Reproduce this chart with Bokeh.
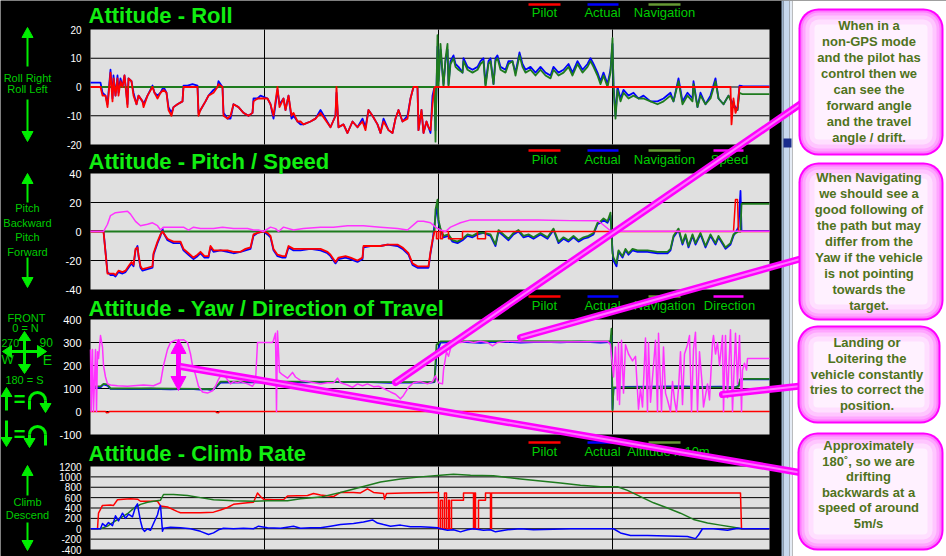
import math
from bokeh.plotting import figure
from bokeh.models import Range1d
from bokeh.core.properties import value
from bokeh.embed import file_html
from bokeh.resources import INLINE

W, H = 946, 556
FONT = "Liberation Sans"

# ---------------- data ----------------
T_END = 679
T_GRID = [174, 348, 522]

roll_ticks = [20, 10, 0, -10, -20]
pitch_ticks = [40, 20, 0, -20, -40]
yaw_ticks = [400, 300, 200, 100, 0, -100]
climb_ticks = [1200, 1000, 800, 600, 400, 200, 0, -200, -400]

# Roll
roll_t_a = [0, 10, 12, 15, 17, 20, 22, 23, 25, 27, 28, 30, 32, 34, 37, 38, 41, 43, 46, 48, 52, 53, 57, 62, 64, 67, 70, 73, 76, 78, 81, 83, 87, 92, 93, 97, 102, 107, 108, 110, 115, 118, 123, 127, 128, 132, 133, 137, 140, 143, 148, 153, 158, 162, 163, 167, 170, 177, 180, 183, 187, 189, 193, 195, 198, 201, 203, 207, 210, 213, 220, 225, 230, 240, 245, 246, 248, 253, 257, 262, 267, 272, 275, 278, 282, 287, 290, 293, 298, 302, 305, 308, 312, 317, 320, 323, 327, 328, 331, 333, 336, 338, 340, 342, 344]
roll_pilot_a = [0, 0, -3, -3, -7, 5, -5, 3, -3, 3, -3, 2, 0, 4, -7, 3, 2, -3, -6, -3, -5, -7, -3, 0, -2, -4, -2, -1, -2, -8, -10, -7, -6, -5, 0, 0, 0, 0, -10, -8, -5, -3, -2, 0, 1, 0, -10, -11, -10, -6, -7, -9, -10, -9, -5, -4, -4, -4, -6, -10, 0, -7, -4, -8, -3, -10, -9, -12, -12, -13, -12, -11, -9, -14, -10, 0, -14, -13, -16, -12, -14, -12, -15, -8, -10, -13, -16, -12, -15, -16, -11, -8, -12, -11, -4, 0, 0, -15, -8, -16, -12, -14, -15, -6, 0]
roll_actual_a = [1.5, 1.5, -2, -3, -6, 6, -4, 4, -3, 4, -2, 3, 0, 4, -6, 3, 2, -2, -6, -3, -5, -6, -3, 0.5, -2, -3, -2, 0, -2, -7, -9, -7, -6, -5, 0.5, 0.5, 1, 0.5, -9, -8, -5, -3, -1, 0, 2, 0, -9, -11, -11, -6, -7, -9, -10, -9, -4, -4, -3, -4, -6, -11, -1, -6, -4, -8, -3, -11, -10, -12, -13, -13, -12, -11, -8, -14, -10, -2, -14, -13, -16, -12, -14, -11, -14, -8, -10, -13, -16, -11, -15, -16, -11, -8, -12, -10, -4, 0, 0, -15, -8, -16, -12, -14, -16, -3, 0]
roll_t_b = [344, 345, 347, 348, 350, 353, 355, 357, 358, 360, 363, 365, 368, 372, 373, 377, 382, 387, 390, 393, 395, 398, 400, 403, 405, 407, 410, 415, 418, 422, 425, 429, 432, 435, 440, 445, 450, 455, 460, 463, 468, 473, 478, 482, 487, 492, 497, 500, 503, 507, 510, 513, 517, 520, 522, 523, 525, 527, 530, 533, 538, 543, 548, 553, 560, 567, 573, 580, 583, 588, 592, 597, 602, 603, 607, 610, 615, 620, 625, 628, 633, 638, 643, 647, 649, 652, 679]
roll_nav_b = [0, -19, 18, 0, 15, 0, 10, 15, 0, 8, 10, 7, 6, 5, 9, 6, 5, 6, 8, 9, 0, 8, 9, 1, 9, 10, 6, 5, 8, 9, 4, 11, 7, 5, 6, 4, 6, 4, 3, 6, 4, 5, 7, 4, 8, 5, 7, 9, 7, 4, 1, 4, 0, 5, 17, 0, -11, -1, -5, -2, -4, -3, -4, -4, -5, -6, -5, -3, -5, 2, -6, -3, -5, 1, -7, -3, -6, -4, 2, -4, -6, -3, -7, -8, -2, -2.5, -2.5]
roll_actual_b = [0, -15, 14, 2, 13, 1, 9, 13, 1, 9, 11, 8, 7, 5, 10, 7, 6, 7, 9, 10, 1, 9, 10, 1, 10, 11, 7, 6, 9, 9, 5, 12, 8, 6, 7, 5, 7, 5, 4, 7, 5, 6, 8, 5, 9, 6, 8, 10, 8, 5, 2, 5, 1, 6, 15, 1, -10, 0, -4, -1, -3, -2, -4, -3, -5, -5, -4, -2, -5, 3, -5, -2, -4, 2, -7, -2, -6, -3, 3, -4, -6, -3, -6, -8, 0.5, 0.3, 0.2]
roll_pilot_b_t = [344, 640, 641, 643, 645, 647, 649, 679]
roll_pilot_b = [0, 0, -13, -4, -9, -7, 0, 0]
roll_nav_a_t = [0, 344]
roll_nav_a = [0, 0]

# Pitch / Speed
pitch_t_a = [0, 13, 17, 20, 23, 25, 28, 32, 35, 38, 41, 43, 45, 47, 48, 50, 52, 57, 62, 63, 67, 70, 72, 73, 77, 80, 83, 90, 93, 98, 103, 107, 110, 114, 118, 120, 123, 130, 137, 143, 150, 155, 160, 163, 167, 173, 177, 180, 183, 187, 192, 195, 198, 203, 210, 220, 230, 237, 240, 245, 248, 255, 260, 267, 272, 273, 280, 290, 297, 307, 312, 318, 322, 327, 333, 338, 340, 342, 344]
pitch_pilot_a = [0, 0, -29, -29, -29, -30, -27, -28, -27, -24, -21, -23, -12, -11, -16, -24, -26, -25, -24, -15, -7, -2, 0, -1, -5, -6, -7, -7, -12, -15, -18, -16, -14, -17, -17, -10, -13, -13, -13, -14, -14, -12, -11, -2, -1, 0, -1, -3, -12, -16, -17, -17, -10, -12, -12, -12, -12, -14, -16, -21, -18, -17, -18, -20, -18, -10, -10, -10, -9, -9, -11, -15, -22, -24, -24, -24, -14, -6, 0]
pitch_actual_a = [0.5, 0.5, -28, -30, -30, -31, -28, -29, -28, -25, -22, -24, -13, -10, -17, -25, -27, -26, -25, -16, -8, -3, 2, -1, -6, -7, -8, -8, -13, -16, -19, -17, -15, -18, -18, -11, -14, -13, -14, -15, -14, -13, -12, -3, -1, 0, -2, -4, -13, -17, -18, -18, -11, -13, -13, -12, -13, -15, -17, -22, -19, -18, -19, -21, -19, -11, -10, -10, -9, -10, -12, -16, -23, -25, -25, -25, -15, -7, 5]
pitch_t_b = [344, 345, 347, 348, 350, 353, 358, 362, 367, 372, 377, 382, 387, 393, 400, 405, 408, 413, 418, 423, 428, 433, 438, 443, 450, 457, 463, 468, 473, 478, 483, 488, 493, 498, 503, 507, 510, 513, 517, 520, 522, 523, 526, 528, 532, 535, 538, 542, 547, 557, 567, 577, 580, 583, 588, 592, 595, 598, 602, 605, 610, 615, 620, 625, 628, 635, 640, 643, 648, 650, 651, 679]
pitch_nav_b = [0, 15, 22, 8, 2, -3, -2, -6, -7, -5, -2, -3, -1, -1, -2, -9, 1, -2, -5, -1, 1, -3, -2, -4, -1, -4, 2, -7, -4, -6, -3, -6, -4, -3, -1, 6, 7, 9, 7, 13, -15, -18, -22, -13, -17, -12, -15, -12, -13, -13, -14, -14, -12, -3, 2, -8, -2, -10, -2, -8, -1, -10, -2, -8, -3, -11, -8, -2, 0, 0, 19, 19]
pitch_actual_b = [5, 10, 18, 6, 1, -4, -3, -7, -8, -6, -3, -4, -2, -1, -3, -10, 0, -3, -6, -2, 0, -4, -3, -5, -2, -5, 1, -8, -5, -7, -4, -7, -5, -4, -2, 5, 6, 8, 6, 11, -13, -20, -24, -14, -18, -13, -16, -13, -14, -14, -15, -15, -13, -4, 1, -9, -3, -11, -3, -9, -2, -11, -3, -9, -4, -12, -9, -3, 3, 28, 0.5, 0.5]
pitch_pilot_b_t = [344, 346, 346, 348, 348, 350, 350, 352, 352, 358, 358, 372, 372, 387, 387, 395, 395, 643, 645, 647, 648, 679]
pitch_pilot_b = [0, 0, -5, -5, 0, 0, -5, -5, 0, 0, -5, -5, 0, 0, -5, -5, 0, 0, 22, 22, 0, 0]
pitch_nav_a_t = [0, 344]
pitch_nav_a = [0, 0]
speed_t = [0, 13, 17, 20, 25, 37, 40, 45, 50, 57, 62, 67, 70, 73, 83, 93, 98, 103, 110, 123, 132, 143, 157, 163, 168, 173, 180, 185, 188, 193, 203, 213, 230, 243, 257, 273, 290, 307, 317, 327, 333, 340, 345, 350, 355, 360, 370, 380, 413, 447, 480, 507, 512, 520, 522, 679]
speed = [0, 0, 5, 11, 13, 14, 12, 7, 4, 5, 6, 4, 1, 3, 3, 3, 1, 3, 2, 2, 3, 2, 2, 1, 1, 0, 3, 2, 0, 3, 1, 2, 3, 3, 4, 4, 3, 2, 1, 7, 7, 6, 3, 1, 0, 3, 6, 8, 8, 8, 7.5, 7.5, 5, 0.5, 0.2, 0.2]

# Yaw / Direction of travel
yaw_nav_t = [0, 10, 13, 17, 20, 60, 110, 123, 127, 130, 200, 300, 340, 344, 346, 350, 400, 500, 519, 520, 521, 522, 523, 530, 600, 645, 648, 650, 679]
yaw_nav = [109, 109, 120, 118, 100, 100, 98, 97, 115, 130, 130, 128, 128, 130, 290, 305, 306, 305, 305, 306, 360, 5, 105, 105, 105, 105, 108, 142, 142]
yaw_actual_t = [0, 10, 13, 17, 20, 40, 60, 80, 100, 110, 115, 120, 123, 127, 130, 160, 200, 240, 280, 300, 320, 340, 344, 346, 350, 370, 390, 410, 430, 450, 470, 490, 510, 519, 520, 521, 522, 523, 530, 560, 590, 610, 630, 645, 648, 650, 679]
yaw_actual = [105, 105, 118, 112, 98, 97, 99, 96, 98, 95, 97, 94, 96, 112, 126, 127, 126, 129, 128, 125, 127, 126, 128, 250, 300, 303, 298, 304, 300, 303, 301, 304, 300, 302, 300, 330, 10, 100, 107, 108, 109, 107, 108, 106, 112, 140, 140]
yaw_pilot_t = [0, 15, 16, 18, 19, 125, 126, 128, 129, 679]
yaw_pilot = [0, 0, -5, -4, 0, 0, -4, -5, 0, 0]
direction_t = [0, 0.7, 2, 3, 5, 6, 7, 8, 10, 12, 13, 15, 17, 20, 27, 37, 43, 53, 63, 70, 73, 77, 80, 85, 93, 97, 100, 102, 105, 108, 112, 117, 122, 125, 128, 132, 135, 140, 143, 147, 150, 157, 162, 165, 167, 172, 182, 183, 185, 186, 187, 189, 192, 197, 202, 205, 210, 217, 230, 237, 243, 247, 250, 257, 262, 267, 272, 277, 283, 288, 293, 300, 305, 310, 313, 318, 323, 330, 337, 342, 345, 348, 352, 353, 356, 358, 361, 363, 370, 377, 383, 390, 397, 402, 407, 417, 430, 463, 497, 517, 520, 523, 525, 527, 528, 529, 531, 533, 535, 538, 542, 545, 548, 550, 552, 555, 557, 558, 560, 563, 565, 567, 568, 571, 573, 575, 577, 580, 582, 584, 586, 588, 590, 592, 594, 597, 599, 601, 603, 605, 607, 609, 612, 613, 617, 619, 622, 623, 625, 627, 629, 632, 633, 635, 637, 640, 642, 645, 647, 649, 651, 652, 654, 656, 657, 679]
direction = [270, 0, 270, 0, 270, 0, 260, 230, 330, 280, 200, 150, 120, 115, 112, 110, 112, 115, 112, 125, 200, 270, 300, 310, 312, 300, 250, 200, 160, 110, 85, 80, 90, 110, 140, 170, 150, 120, 130, 125, 130, 120, 110, 130, 300, 300, 300, 310, 340, 0, 350, 171, 160, 145, 170, 150, 135, 130, 120, 125, 125, 145, 125, 115, 105, 120, 112, 120, 108, 110, 100, 85, 75, 55, 70, 105, 125, 130, 120, 130, 155, 125, 120, 180, 260, 240, 290, 300, 300, 305, 300, 305, 300, 285, 300, 305, 303, 302, 303, 305, 290, 150, 280, 50, 300, 30, 310, 80, 290, 250, 220, 240, 10, 100, 20, 320, 0, 300, 40, 200, 310, 0, 340, 0, 280, 80, 50, 0, 130, 50, 0, 100, 260, 30, 250, 290, 330, 0, 270, 345, 0, 260, 100, 20, 120, 50, 300, 330, 250, 300, 200, 330, 0, 330, 60, 355, 0, 340, 120, 330, 0, 180, 210, 180, 230, 230]

# Climb rate
alt_t = [0, 10, 17, 23, 30, 37, 43, 50, 57, 63, 70, 73, 83, 97, 110, 123, 143, 163, 177, 197, 210, 230, 250, 270, 290, 310, 330, 350, 363, 380, 403, 417, 430, 450, 470, 490, 510, 527, 537, 550, 563, 577, 590, 603, 617, 630, 643, 651, 679]
alt = [0, 0, 50, 130, 210, 290, 390, 470, 510, 530, 550, 660, 660, 640, 600, 560, 540, 530, 540, 540, 580, 610, 700, 800, 900, 960, 1000, 1030, 1050, 1030, 1020, 990, 960, 920, 880, 840, 810, 810, 740, 620, 500, 400, 300, 180, 110, 70, 30, 0, 0]
climb_pilot_t = [0, 7, 8, 12, 20, 23, 27, 33, 40, 47, 50, 67, 70, 77, 87, 90, 110, 123, 130, 137, 143, 157, 163, 167, 170, 173, 183, 193, 197, 217, 223, 230, 243, 250, 263, 270, 277, 283, 293, 294, 296, 313, 347, 348, 348, 350, 350, 352, 352, 354, 354, 356, 356, 358, 358, 359, 359, 361, 361, 373, 373, 383, 383, 384, 384, 385, 385, 388, 388, 395, 395, 400, 400, 401, 401, 650, 651, 679]
climb_pilot = [0, 0, 300, 450, 460, 450, 560, 570, 580, 570, 530, 530, 440, 420, 330, 310, 310, 320, 360, 410, 470, 500, 510, 690, 620, 570, 560, 560, 630, 640, 680, 650, 620, 700, 700, 690, 770, 700, 680, 570, 680, 690, 700, 700, 0, 0, 550, 550, 0, 0, 690, 690, 0, 0, 550, 550, 0, 0, 550, 550, 690, 690, 0, 0, 690, 690, 0, 0, 550, 550, 690, 690, 0, 0, 690, 690, 0, 0]
climb_actual_t = [0, 10, 12, 15, 18, 22, 25, 28, 32, 35, 38, 42, 45, 47, 48, 50, 52, 54, 57, 60, 63, 67, 68, 70, 72, 73, 80, 90, 100, 110, 118, 123, 128, 133, 143, 153, 163, 168, 177, 190, 203, 210, 220, 230, 240, 250, 263, 273, 282, 287, 293, 300, 310, 320, 330, 340, 347, 350, 357, 363, 370, 377, 383, 393, 400, 405, 417, 430, 443, 463, 480, 497, 513, 523, 530, 540, 557, 577, 597, 605, 608, 612, 623, 637, 647, 652, 679]
climb_actual = [0, 0, 100, 50, 120, 60, 250, 150, 300, 200, 280, 230, 420, 480, 360, 150, 0, -50, 0, -30, 100, 270, 350, 450, -50, 10, 30, 20, 0, -50, -110, -80, -20, 10, 0, 10, 0, 50, 20, 10, 50, 10, 20, 20, 50, 80, 100, 130, 170, 110, 80, 50, 70, 40, 40, 30, 20, 0, -30, -20, -60, -20, 0, -30, -20, -60, -20, 0, -20, -10, 0, 0, 0, 0, -80, -130, -130, -140, -150, -190, -120, 0, 0, -30, 10, 0, 0]

titles = ["Attitude - Roll", "Attitude - Pitch / Speed",
          "Attitude - Yaw / Direction of Travel", "Attitude - Climb Rate"]
legend_roll = ["Pilot", "Actual", "Navigation"]
legend_pitch = ["Pilot", "Actual", "Navigation", "Speed"]
legend_yaw = ["Pilot", "Actual", "Navigation", "Direction"]
legend_climb = ["Pilot", "Actual", "Altitude x 10m"]

callout_texts = [
    ["When in a", "non-GPS mode", "and the pilot has", "control then we",
     "can see the", "forward angle", "and the travel", "angle / drift."],
    ["When Navigating", "we should see a", "good following of", "the path but may",
     "differ from the", "Yaw if the vehicle", "is not pointing", "towards the", "target."],
    ["Landing or", "Loitering the", "vehicle constantly", "tries to correct the", "position."],
    ["Approximately", "180\u02da, so we are", "drifting", "backwards at a",
     "speed of around", "5m/s"],
]

# ---------------- styles / layout ----------------
RED, BLUE, NAV, MAG = "#ff0000", "#0000ff", "#1e7b1e", "#ff33ff"
LEG_NAV = "#669933"
GREEN_TITLE = "#11ee11"
GREEN_TXT = "#00cc00"
GREEN_ARROW = "#00ee00"
PLOT_BG = "#e0e0e0"

p = figure(width=W, height=H, x_range=Range1d(0, W), y_range=Range1d(0, H),
           output_backend="svg", toolbar_location=None,
           x_axis_type=None, y_axis_type=None, min_border=0,
           background_fill_color="black", border_fill_color="black",
           outline_line_color=None)


def Y(py):
    return H - py


PLOT_LEFT_PX = 90
panels = {
    "roll": dict(top=29, bottom=144, ticks=roll_ticks, grid=[10, 0, -10], fs=10),
    "pitch": dict(top=173, bottom=289, ticks=pitch_ticks, grid=[20, 0, -20], fs=11),
    "yaw": dict(top=319, bottom=434, ticks=yaw_ticks, grid=[300, 200, 100, 0], fs=11),
    "climb": dict(top=466, bottom=549, ticks=climb_ticks, grid=climb_ticks[1:-1], fs=10),
}
yr = {}
for name, d in panels.items():
    lo, hi = min(d["ticks"]), max(d["ticks"])
    s = (hi - lo) / (d["bottom"] - d["top"])
    r0 = lo - (H - d["bottom"]) * s
    yr[name] = Range1d(r0, r0 + H * s)
p.extra_y_ranges = yr
p.extra_x_ranges = {"t": Range1d(-PLOT_LEFT_PX, W - PLOT_LEFT_PX)}


def label(x, y, s, size, color, align="center", baseline="middle", bold=False, font=FONT):
    p.text(x=[x], y=[Y(y)], text=[s], text_font=value(font),
           text_font_size=value(f"{size}px"), text_color=color,
           text_align=align, text_baseline=baseline,
           text_font_style="bold" if bold else "normal")


for name, d in panels.items():
    lo, hi = min(d["ticks"]), max(d["ticks"])
    p.quad(left=[0], right=[T_END], bottom=[lo], top=[hi], x_range_name="t",
           y_range_name=name, fill_color=PLOT_BG, line_color=None)
    p.segment(x0=T_GRID, x1=T_GRID, y0=[lo] * 3, y1=[hi] * 3, x_range_name="t",
              y_range_name=name, line_color="black", line_width=1)
    g = d["grid"]
    p.segment(x0=[0] * len(g), x1=[T_END] * len(g), y0=g, y1=g, x_range_name="t",
              y_range_name=name, line_color="black", line_width=1)
    p.text(x=[81] * len(d["ticks"]), y=d["ticks"], text=[str(v) for v in d["ticks"]],
           y_range_name=name, text_align="right", text_baseline="middle",
           text_font=value(FONT), text_font_size=value(f"{d['fs']}px"),
           text_color="white")


def series(name, ts, vs, color, lw=1.8):
    n = min(len(ts), len(vs))
    p.line(ts[:n], vs[:n], x_range_name="t", y_range_name=name,
           line_color=color, line_width=lw, line_join="round")


# Roll
series("roll", roll_t_a, roll_actual_a, BLUE)
series("roll", roll_t_b, roll_actual_b, BLUE)
series("roll", roll_nav_a_t, roll_nav_a, NAV)
series("roll", roll_t_b, roll_nav_b, NAV)
series("roll", roll_t_a, roll_pilot_a, RED)
series("roll", roll_pilot_b_t, roll_pilot_b, RED)
# Pitch
series("pitch", pitch_t_a, pitch_actual_a, BLUE)
series("pitch", pitch_t_b, pitch_actual_b, BLUE)
series("pitch", pitch_nav_a_t, pitch_nav_a, NAV)
series("pitch", pitch_t_b, pitch_nav_b, NAV)
series("pitch", pitch_t_a, pitch_pilot_a, RED)
series("pitch", pitch_pilot_b_t, pitch_pilot_b, RED, 1.5)
series("pitch", speed_t, speed, MAG, 1.5)
# Yaw
series("yaw", yaw_pilot_t, yaw_pilot, RED, 1.5)
series("yaw", yaw_actual_t, yaw_actual, BLUE)
series("yaw", yaw_nav_t, yaw_nav, NAV)
series("yaw", direction_t, direction, MAG, 1.5)
# Climb
series("climb", climb_pilot_t, climb_pilot, RED, 1.5)
series("climb", alt_t, alt, NAV, 1.5)
series("climb", climb_actual_t, climb_actual, BLUE, 1.5)

# titles
for ttl, mid in zip(titles, [15, 161, 307.5, 452.5]):
    label(88, mid, ttl, 22, GREEN_TITLE, align="left", baseline="middle", bold=True)

# legends
leg_col = {"Pilot": RED, "Actual": BLUE, "Navigation": LEG_NAV, "Altitude x 10m": LEG_NAV,
           "Speed": "#ff00ff", "Direction": "#ff00ff"}
leg_x = [(528, 560, 544), (587, 618, 602), (648, 680, 664), (713, 743, 729)]
for labels, ly, ty in [(legend_roll, 4, 12), (legend_pitch, 150, 158.5),
                       (legend_yaw, 296, 305), (legend_climb, 442, 451)]:
    for lab, (x0, x1, xc) in zip(labels, leg_x):
        p.segment(x0=[x0], x1=[x1], y0=[Y(ly)], y1=[Y(ly)], line_color=leg_col[lab], line_width=2.5)
        if lab == "Altitude x 10m":
            xc = 668
        label(xc, ty, lab, 13, GREEN_TXT)


# left-side annotations
def garrow(x0, y0, x1, y1, color=GREEN_ARROW, lw=2, hl=10, hw=11):
    dx, dy = x1 - x0, y1 - y0
    L = math.hypot(dx, dy)
    ux, uy = dx / L, dy / L
    bx, by = x1 - ux * hl, y1 - uy * hl
    p.line([x0, bx], [Y(y0), Y(by)], line_color=color, line_width=lw)
    nx, ny = -uy, ux
    p.patch([x1, bx + nx * hw / 2, bx - nx * hw / 2],
            [Y(y1), Y(by + ny * hw / 2), Y(by - ny * hw / 2)],
            fill_color=color, line_color=color, line_width=1)


garrow(27, 66, 27, 27)
label(27, 77, "Roll Right", 11, GREEN_TXT)
label(27, 88, "Roll Left", 11, GREEN_TXT)
garrow(27, 99, 27, 141)

garrow(27, 202, 27, 173)
for s_, yy in zip(["Pitch", "Backward", "Pitch", "Forward"], [207, 222, 236, 251]):
    label(27, yy, s_, 11, GREEN_TXT)
garrow(27, 257, 27, 287)

garrow(27, 495, 27, 465)
label(27, 501, "Climb", 11, GREEN_TXT)
label(27, 514, "Descend", 11, GREEN_TXT)
garrow(27, 522, 27, 550)

# compass
cx, cy = 24, 351
for ax, ay in [(24, 331), (24, 373), (2, 351), (46, 351)]:
    garrow(cx, cy, ax, ay, lw=3, hl=9, hw=12)
label(26, 317, "FRONT", 11, GREEN_TXT)
label(25, 327, "0 = N", 11, GREEN_TXT)
label(1, 342, "270", 10.5, GREEN_TXT, align="left")
label(39, 342, "90", 12, GREEN_TXT, align="left")
label(1, 359, "W", 13, GREEN_TXT, align="left")
label(47, 359, "E", 14, GREEN_TXT)
label(24, 379, "180 = S", 11, GREEN_TXT)

# rotation hints
garrow(6, 410, 6, 387, lw=3, hl=9, hw=11)
label(19, 398, "=", 20, GREEN_ARROW, bold=True)
p.arc(x=[37], y=[Y(400)], radius=8, start_angle=0, end_angle=math.pi,
      line_color=GREEN_ARROW, line_width=3)
p.line([29, 29], [Y(400), Y(409)], line_color=GREEN_ARROW, line_width=3)
garrow(45, 400, 45, 412, lw=3, hl=9, hw=11)

garrow(6, 420, 6, 446, lw=3, hl=9, hw=11)
label(19, 433, "=", 20, GREEN_ARROW, bold=True)
p.arc(x=[37], y=[Y(434)], radius=8, start_angle=0, end_angle=math.pi,
      line_color=GREEN_ARROW, line_width=3)
p.line([45, 45], [Y(434), Y(445)], line_color=GREEN_ARROW, line_width=3)
garrow(29, 434, 29, 447, lw=3, hl=9, hw=11)

# double-headed arrow (yaw ~180 deg)
garrow(178, 365, 178, 339, color="#ff00ff", lw=5, hl=14, hw=15)
garrow(178, 365, 178, 390, color="#ff00ff", lw=5, hl=14, hw=15)

# right-hand window strip
for x0, x1, col in [(781, 783, "#9eb3cc"), (783, 789, "#c8d9ee"),
                    (789, 792, "#e4ebf4"), (792, 946, "#ffffff")]:
    p.quad(left=[x0], right=[x1], top=[Y(0)], bottom=[Y(556)], fill_color=col, line_color=None)
p.quad(left=[783], right=[791], top=[Y(138)], bottom=[Y(147)], fill_color="#1a2d8c", line_color=None)

# connectors
connectors = [((395, 382), (805, 100)), ((520, 337), (805, 257)),
              ((722, 394), (805, 385)), ((180, 366), (805, 473))]
for (x0, y0), (x1, y1) in connectors:
    p.line([x0, x1], [Y(y0), Y(y1)], line_color="#ff00ff", line_width=7, line_cap="round")
    p.line([x0, x1], [Y(y0), Y(y1)], line_color="#ff77ff", line_width=2)

# callouts
callout_boxes = [(798, 943, 8, 155), (798, 943, 162, 320), (797, 940, 325, 423), (797, 943, 432, 550)]
callout_first = [25, 177, 342, 445]
callout_step = [16, 16, 15.8, 15.6]
layers = [(0, "#ff00ff"), (2, "#ff7cff"), (4, "#ffa6ff"), (7, "#ffc6ff"), (11, "#ffdfff"), (16, "#fff1ff")]
for (l, r, t, b), lines, y0, st in zip(callout_boxes, callout_texts, callout_first, callout_step):
    for inset, col in layers:
        p.quad(left=[l + inset], right=[r - inset], top=[Y(t + inset)], bottom=[Y(b - inset)],
               fill_color=col, line_color=None, border_radius=max(20 - inset, 3))
    xc = (l + r) / 2 - 2
    for i, s_ in enumerate(lines):
        label(xc, y0 + i * st, s_, 13, "#4f7320", bold=True)

open("out.html", "w").write(file_html(p, INLINE))
